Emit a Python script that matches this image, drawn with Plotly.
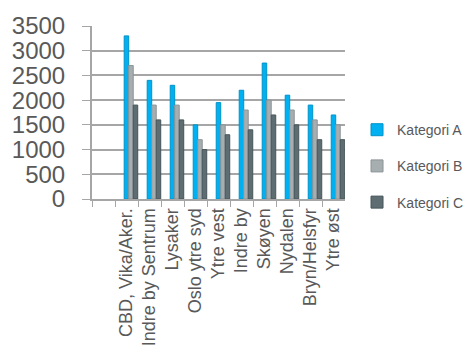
import plotly.graph_objects as go

categories = ["", "CBD, Vika/Aker.", "Indre by Sentrum", "Lysaker", "Oslo ytre syd",
              "Ytre vest", "Indre by", "Skøyen", "Nydalen", "Bryn/Helsfyr", "Ytre øst"]
kategori_a = [None, 3300, 2400, 2300, 1500, 1950, 2200, 2750, 2100, 1900, 1700]
kategori_b = [None, 2700, 1900, 1900, 1200, 1500, 1800, 2000, 1800, 1600, 1500]
kategori_c = [None, 1900, 1600, 1600, 1000, 1300, 1400, 1700, 1500, 1200, 1200]
series_names = ["Kategori A", "Kategori B", "Kategori C"]
colors = ["#00B0F0", "#A6AEB0", "#5D6D72"]
line_colors = ["#0092C8", "#8C9496", "#46555A"]
bar_offsets = [-0.1, 0.096, 0.292]
bar_width = 0.196

fig = go.Figure()
for name, vals, c, lc, off in zip(series_names, [kategori_a, kategori_b, kategori_c],
                                  colors, line_colors, bar_offsets):
    fig.add_trace(go.Bar(x=categories, y=vals, name=name, legendgroup=name,
                         offset=off, width=bar_width,
                         marker=dict(color=c, line=dict(color=lc, width=1))))

fig.update_layout(
    width=471, height=358,
    margin=dict(l=92, r=104, t=22, b=153),
    paper_bgcolor="white", plot_bgcolor="white",
    barmode="overlay",
    font=dict(family="Liberation Sans, Arial, sans-serif", color="#595959"),
    showlegend=True,
    legend=dict(xref="container", yref="container", x=0.758, y=0.536,
                xanchor="left", yanchor="middle",
                font=dict(size=14, color="#595959"), tracegroupgap=15,
                itemwidth=30, bgcolor="rgba(0,0,0,0)"),
    xaxis=dict(type="category", tickangle=-90, tickfont=dict(size=18, color="#595959"),
               showline=True, linecolor="#A6A6A6", linewidth=2,
               ticks="outside", ticklen=6, tickcolor="#A6A6A6", tickson="boundaries",
               showgrid=False),
    yaxis=dict(range=[0, 3500], dtick=500, tickfont=dict(size=24, color="#595959"),
               showline=True, linecolor="#A6A6A6", linewidth=2,
               ticks="outside", ticklen=8, tickcolor="#A6A6A6", ticklabelstandoff=12,
               showgrid=True, gridcolor="#A6A6A6", gridwidth=2, zeroline=False),
)

fig.write_html("out.html")
